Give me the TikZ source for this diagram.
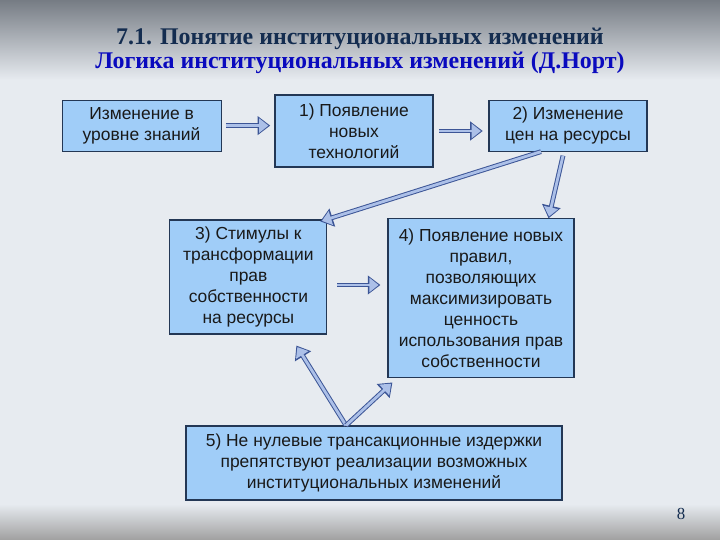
\documentclass[tikz,border=0pt]{standalone}
\usepackage{fontspec}
\setmainfont{Liberation Sans}
\newfontfamily\titlefont{Liberation Serif}
\usetikzlibrary{arrows.meta}

\definecolor{boxfill}{RGB}{160,205,248}
\definecolor{boxline}{RGB}{35,55,85}
\definecolor{boxtext}{RGB}{25,25,25}
\definecolor{arrowfill}{RGB}{172,192,232}
\definecolor{arrowline}{RGB}{60,85,150}
\definecolor{titleA}{RGB}{20,45,80}
\definecolor{titleB}{RGB}{10,10,190}
\definecolor{bgmid}{RGB}{231,235,240}
\definecolor{bgtop}{RGB}{118,124,132}
\definecolor{bgbot}{RGB}{160,160,160}

\tikzset{
  box/.style={draw=boxline, fill=boxfill, line width=0.8pt, align=center, inner sep=0pt,
    text=boxtext, font=\fontsize{12.4}{15}\selectfont},
  titletext/.style={font=\titlefont\bfseries\fontsize{17}{19}\selectfont},
  fatarrow/.style={draw=arrowline, line width=3.4pt, shorten >=#1,
    -{Triangle[length=9pt,width=13pt]},
    postaction={draw=arrowfill, line width=2pt, shorten >=#1+1.3pt,
      -{Triangle[length=6.6pt,width=10pt]}}},
  fatarrow/.default=0pt
}

\begin{document}
\begin{tikzpicture}
			% background
			\fill[bgmid] (0,0) rectangle (18,13.5);
			\shade[top color=bgtop, bottom color=bgmid] (0,11.5) rectangle (18,13.5);
			\shade[top color=bgmid, bottom color=bgbot] (0,0) rectangle (18,0.9);
			\useasboundingbox (0,0) rectangle (18,13.5);
			% title
			\node[titletext, text=titleA] at (9,12.53) (t1) {7.1. Понятие институциональных изменений};
			\node[titletext, text=titleB] at (9,11.94) (t2) {Логика институциональных изменений (Д.Норт)};
			% boxes
			\node[box, minimum width=3.975cm, minimum height=1.275cm] at (3.54,10.36)   (b0) {Изменение в\\уровне знаний};
			\node[box, minimum width=3.95cm,  minimum height=1.8cm]   at (8.85,10.225)  (b1) {1) Появление\\новых\\технологий};
			\node[box, minimum width=3.95cm,  minimum height=1.275cm] at (14.2,10.36)   (b2) {2) Изменение\\цен на ресурсы};
			\node[box, minimum width=3.925cm, minimum height=2.85cm]  at (6.21,6.575)   (b3) {3) Стимулы к\\трансформации\\прав\\собственности\\на ресурсы};
			\node[box, minimum width=4.65cm,  minimum height=3.975cm] at (12.025,6.04)  (b4) {4) Появление новых\\правил,\\позволяющих\\максимизировать\\ценность\\использования прав\\собственности};
			\node[box, minimum width=9.4cm,   minimum height=1.85cm]  at (9.35,1.925)   (b5) {5) Не нулевые трансакционные издержки\\препятствуют реализации возможных\\институциональных изменений};
			\node[text=titleA, font=\titlefont\fontsize{12}{14}\selectfont] at (17.025,0.65) (pg) {8};
			% arrows
			\coordinate (m34) at ([yshift=-0.2cm]b3.east);
			\coordinate (s5)  at ([xshift=-0.7cm]b5.north);
			\draw[fatarrow=3pt, shorten <=3pt] (b0.east) -- (b0.east -| b1.west);
			\draw[fatarrow=4pt, shorten <=4pt] (b1.east) -- (b1.east -| b2.west);
			\draw[fatarrow] ([xshift=-0.675cm]b2.south) -- ([xshift=-0.18cm,yshift=-0.05cm]b3.north east);
			\draw[fatarrow] ([xshift=-0.125cm,yshift=-0.1cm]b2.south) -- ([xshift=-0.65cm]b4.north east);
			\draw[fatarrow=5pt, shorten <=0.25cm] (m34) -- (m34 -| b4.west);
			\draw[fatarrow] (s5) -- ([xshift=1.2cm,yshift=-0.275cm]b3.south);
			\draw[fatarrow] (s5) -- ([xshift=0.125cm,yshift=-0.1cm]b4.south west);
		\end{tikzpicture}
\end{document}
